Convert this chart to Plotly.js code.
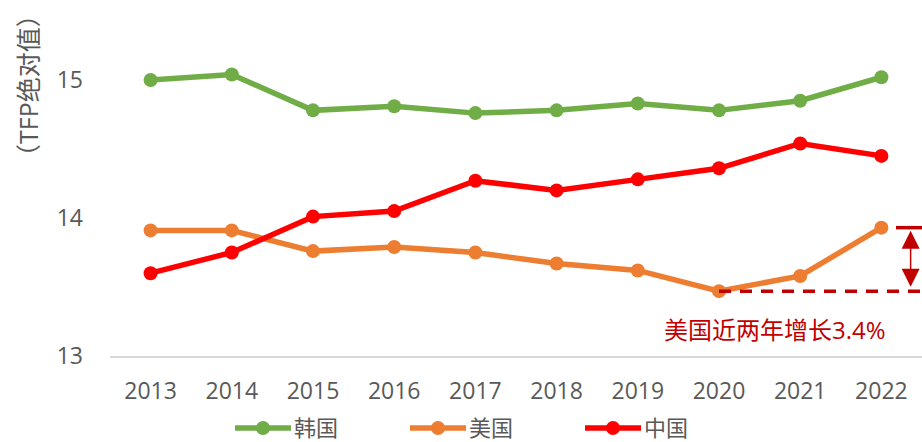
<!DOCTYPE html>
<html>
<head>
<meta charset="utf-8">
<script src="https://cdn.plot.ly/plotly-3.0.1.min.js"></script>
<style>html,body{margin:0;padding:0;background:#fff;}#chart{width:922px;height:442px;}</style>
</head>
<body>
<div id="chart"></div>
<script>
const years = ['2013','2014','2015','2016','2017','2018','2019','2020','2021','2022'];
const korea = [15.00, 15.04, 14.78, 14.81, 14.76, 14.78, 14.83, 14.78, 14.85, 15.02];
const usa   = [13.91, 13.91, 13.76, 13.79, 13.75, 13.67, 13.62, 13.47, 13.58, 13.93];
const china = [13.60, 13.75, 14.01, 14.05, 14.27, 14.20, 14.28, 14.36, 14.54, 14.45];
const seriesNames = ['韩国', '美国', '中国'];
const seriesColors = ['#70AD47', '#ED7D31', '#FF0000'];
const yTicks = [13, 14, 15];
const yTitle = '（TFP绝对值）';
const growthText = '美国近两年增长3.4%';

const FONT = '"Open Sans", "Noto Sans CJK SC", sans-serif';
const TXT = '#595959';
const ANN = '#C00000';

const data = [korea, usa, china].map((vals, i) => ({
  type: 'scatter', mode: 'lines+markers',
  x: years, y: vals, name: seriesNames[i],
  line: {color: seriesColors[i], width: 5.5},
  marker: {color: seriesColors[i], size: 14},
  hoverinfo: 'skip', showlegend: false
}));

// custom legend (paper coords)
const L = 110, W = 812, B = 356, H = 345;
const px = v => (v - L) / W;
const py = v => (B - v) / H;
const legendY = 428;
const legendStarts = [235, 410, 585];
const shapes = [];
const annotations = [];
legendStarts.forEach((s, i) => {
  shapes.push({type: 'line', xref: 'paper', yref: 'paper', x0: px(s), x1: px(s + 56), y0: py(legendY), y1: py(legendY),
    line: {color: seriesColors[i], width: 5.5}});
  shapes.push({type: 'circle', xref: 'paper', yref: 'paper', xsizemode: 'pixel', ysizemode: 'pixel',
    xanchor: px(s + 28), yanchor: py(legendY), x0: -7, x1: 7, y0: -7, y1: 7,
    fillcolor: seriesColors[i], line: {width: 0}});
  annotations.push({xref: 'paper', yref: 'paper', x: px(s + 58), y: py(legendY - 1), xanchor: 'left', yanchor: 'middle',
    text: seriesNames[i], showarrow: false, borderpad: 0, font: {family: FONT, size: 22, color: TXT}});
});

// growth annotation
shapes.push({type: 'line', xref: 'x', yref: 'y', x0: 7, x1: 9.5, y0: usa[7], y1: usa[7],
  line: {color: ANN, width: 3.5, dash: '12px,9px'}});
shapes.push({type: 'line', xref: 'x', yref: 'y', x0: 9.18, x1: 9.5, y0: usa[9], y1: usa[9],
  line: {color: ANN, width: 3.5}});
annotations.push({xref: 'x', yref: 'y', axref: 'x', ayref: 'y', x: 9.36, y: usa[9], ax: 9.36, ay: usa[7],
  text: '', showarrow: true, arrowside: 'end+start', arrowhead: 2, arrowsize: 2.4, arrowwidth: 1.5,
  arrowcolor: ANN, standoff: 3, startstandoff: 3});
annotations.push({xref: 'paper', yref: 'paper', x: px(775), y: py(329), xanchor: 'center', yanchor: 'middle',
  text: growthText, showarrow: false, font: {family: FONT, size: 24, color: ANN}});

// y title
annotations.push({xref: 'paper', yref: 'paper', x: px(28), y: py(86), xanchor: 'center', yanchor: 'middle',
  text: yTitle, textangle: -90, showarrow: false, font: {family: FONT, size: 25, color: TXT}});

const layout = {
  width: 922, height: 442,
  margin: {l: L, r: 0, t: 11, b: 442 - B},
  paper_bgcolor: '#fff', plot_bgcolor: '#fff',
  showlegend: false,
  font: {family: FONT, color: TXT},
  xaxis: {type: 'category', range: [-0.5, 9.5], showgrid: false, zeroline: false,
    showline: true, linecolor: '#D9D9D9', linewidth: 1.5,
    ticks: '', ticklabelstandoff: 14, tickfont: {family: FONT, size: 23, color: TXT}},
  yaxis: {range: [13, 15.5], tickvals: yTicks, ticktext: yTicks.map(String), showgrid: false, zeroline: false,
    showline: false, ticks: '', ticklabelstandoff: 26, tickfont: {family: FONT, size: 23, color: TXT}},
  shapes: shapes, annotations: annotations
};

Plotly.newPlot('chart', data, layout, {displayModeBar: false, staticPlot: true});
</script>
</body>
</html>
